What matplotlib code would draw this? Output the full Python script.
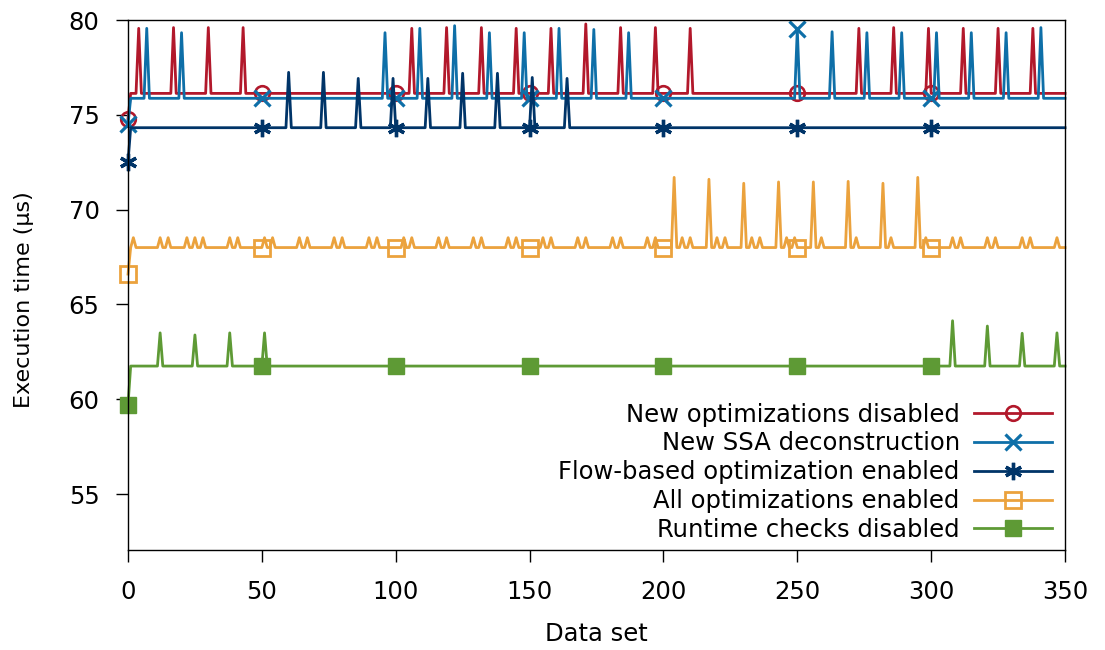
import numpy as np
import matplotlib
matplotlib.use("Agg")
import matplotlib.pyplot as plt

# ---------------- data ----------------
n_points = 351  # data sets 0..350
marker_idx = [0, 50, 100, 150, 200, 250, 300]

labels = ["New optimizations disabled", "New SSA deconstruction",
          "Flow-based optimization enabled", "All optimizations enabled",
          "Runtime checks disabled"]

# first value, baseline value
red_first, red_base = 74.8, 76.13
blue_first, blue_base = 74.5, 75.87
navy_first, navy_base = 72.5, 74.32
orange_first, orange_base = 66.6, 68.0
green_first, green_base = 59.7, 61.75

red_spike_x = [4, 17, 30, 43, 106, 119, 132, 145, 158, 171, 184, 197, 210,
               273, 286, 299, 312, 325, 338]
red_spike_y = [79.56, 79.6, 79.6, 79.6, 79.56, 79.6, 79.6, 79.56, 79.56, 79.79,
               79.6, 79.6, 79.56, 79.56, 79.6, 79.56, 79.56, 79.56, 79.56]

blue_spike_x = [7, 20, 96, 109, 122, 135, 148, 161, 174, 187, 250, 263,
                276, 289, 302, 315, 328, 341]
blue_spike_y = [79.56, 79.33, 79.33, 79.56, 79.7, 79.33, 79.33, 79.56, 79.5,
                79.33, 79.5, 79.38, 79.33, 79.33, 79.33, 79.33, 79.33, 79.6]

navy_spike_x = [60, 73, 86, 99, 112, 125, 138, 151, 164]
navy_spike_y = [77.24, 77.24, 76.92, 76.92, 76.92, 77.19, 77.19, 76.97, 76.92]

orange_small_x = [2, 12, 15, 22, 25, 28, 38, 41, 51, 54, 64, 67, 77, 80, 90, 93,
                  103, 106, 116, 119, 129, 132, 142, 145, 155, 158, 168, 171,
                  181, 184, 194, 197, 207, 210, 220, 223, 233, 236, 246, 249,
                  259, 272, 285, 298, 308, 311, 321, 324, 334, 337, 347]
orange_small_y = 68.52
orange_big_x = [204, 217, 230, 243, 256, 269, 282, 295]
orange_big_y = [71.7, 71.6, 71.39, 71.46, 71.46, 71.49, 71.39, 71.7]

green_spike_x = [12, 25, 38, 51, 308, 321, 334, 347]
green_spike_y = [63.5, 63.39, 63.5, 63.5, 64.14, 63.86, 63.48, 63.5]

colors = ["#B2182B", "#0E6FA8", "#003468", "#EBA23D", "#5E9A35"]

# ---------------- build series ----------------
x = np.arange(n_points)

def series(first, base, sx, sy):
    y = np.full(n_points, base, dtype=float)
    y[0] = first
    y[np.array(sx)] = sy
    return y

red = series(red_first, red_base, red_spike_x, red_spike_y)
blue = series(blue_first, blue_base, blue_spike_x, blue_spike_y)
navy = series(navy_first, navy_base, navy_spike_x, navy_spike_y)
orange = series(orange_first, orange_base, orange_small_x, orange_small_y)
orange[np.array(orange_big_x)] = orange_big_y
green = series(green_first, green_base, green_spike_x, green_spike_y)

# ---------------- plot ----------------
plt.rcParams['font.family'] = ['DejaVu Sans']
fig = plt.figure(figsize=(11.05, 6.5), dpi=100)
ax = fig.add_axes([128/1105, 1-550/650, (1065-128)/1105, (550-20)/650])

fs = 17.5
lw = 2.0
common = dict(lw=lw, markevery=marker_idx, clip_on=False)
ax.plot(x, red, color=colors[0], marker='o', ms=10.5, mfc='none', mew=1.9,
        label=labels[0], **common)
ax.plot(x, blue, color=colors[1], marker='x', ms=12, mew=2.3,
        label=labels[1], **common)
ax.plot(x, navy, color=colors[2], marker=(6, 2, 0), ms=12.5, mew=2.4,
        label=labels[2], **common)
ax.plot(x, orange, color=colors[3], marker='s', ms=11, mfc='none', mew=2.0,
        label=labels[3], **common)
ax.plot(x, green, color=colors[4], marker='s', ms=12,
        label=labels[4], **common)

ax.set_xlim(0, 350)
ax.set_ylim(52.05, 80)
ax.set_xticks(np.arange(0, 351, 50))
ax.set_yticks(np.arange(55, 81, 5))
ax.tick_params(direction='out', length=8.5, width=1, labelsize=fs, top=False, right=False)
ax.tick_params(axis='y', pad=12)
ax.tick_params(axis='x', pad=13)
for s in ax.spines.values():
    s.set_linewidth(1)
ax.set_xlabel("Data set", fontsize=fs, labelpad=13)
ax.set_ylabel("Execution time (µs)", fontsize=16)
ax.yaxis.set_label_coords((34 - 128) / 937, (550 - 300) / 530)

leg = ax.legend(loc='lower right', bbox_to_anchor=(1052/1105, 1-542/650),
                bbox_transform=fig.transFigure, frameon=False, markerfirst=False,
                fontsize=fs, handlelength=3.2, labelspacing=0.2, handletextpad=0.6,
                borderaxespad=0, borderpad=0)

fig.savefig("out.png", dpi=100)
